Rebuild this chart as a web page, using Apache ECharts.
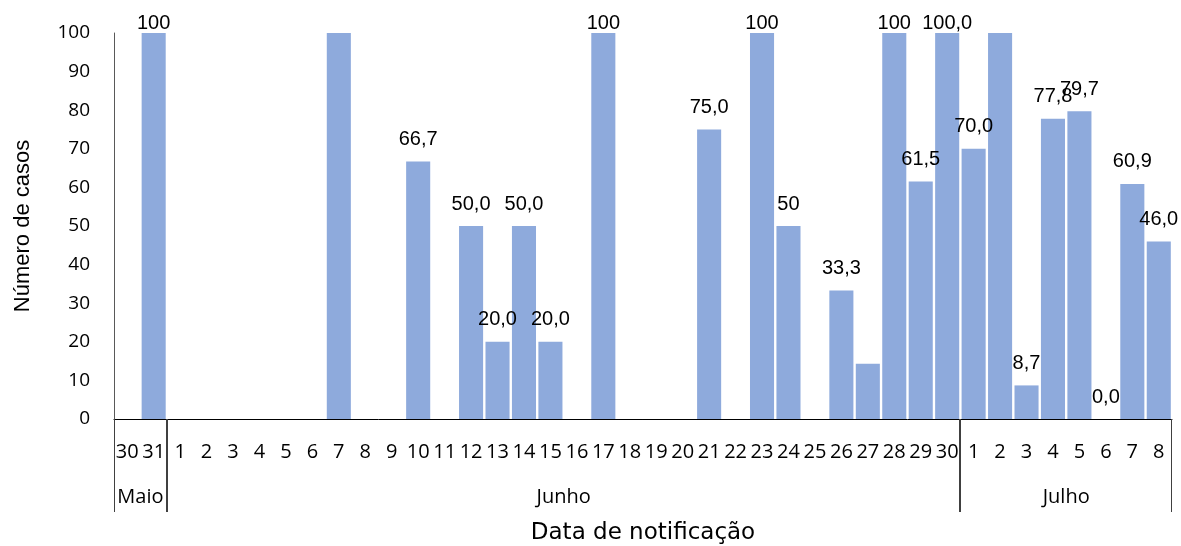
<!DOCTYPE html>
<html>
<head>
<meta charset="utf-8">
<script src="https://cdn.jsdelivr.net/npm/echarts@6/dist/echarts.min.js"></script>
<style>
  html, body { margin: 0; padding: 0; background: #fff; }
  #chart { width: 1181px; height: 546px; }
</style>
</head>
<body>
<div id="chart"></div>
<script>
// Days of notification, grouped by month below the axis
const days = ['30', '31',
  '1','2','3','4','5','6','7','8','9','10','11','12','13','14','15',
  '16','17','18','19','20','21','22','23','24','25','26','27','28','29','30',
  '1','2','3','4','5','6','7','8'];
const monthNames = ['Maio', 'Junho', 'Julho'];
const monthLengths = [2, 30, 8];

// Bar heights per day (null = no bar)
const values = [null, 100,
  null, null, null, null, null, null, 100, null, null, 66.7, null, 50, 20, 50, 20,
  null, 100, null, null, null, 75, null, 100, 50, null, 33.3, 14.3, 100, 61.5, 100,
  70, 100, 8.7, 77.8, 79.7, 0, 60.9, 46];

// Text shown above each bar ('' = no label)
const valueLabels = ['', '100',
  '', '', '', '', '', '', '', '', '', '66,7', '', '50,0', '20,0', '50,0', '20,0',
  '', '100', '', '', '', '75,0', '', '100', '50', '', '33,3', '', '100', '61,5', '100,0',
  '70,0', '', '8,7', '77,8', '79,7', '0,0', '60,9', '46,0'];

const yTicks = { min: 0, max: 100, interval: 10 };

// Month spans in category units: [start, end, name]
const monthSpans = [];
let acc = 0;
monthNames.forEach((name, i) => {
  monthSpans.push([acc, acc + monthLengths[i], name]);
  acc += monthLengths[i];
});

const chart = echarts.init(document.getElementById('chart'));

chart.setOption({
  animation: false,
  backgroundColor: '#fff',
  grid: { left: 114, right: 9, top: 33, bottom: 127, containLabel: false, outerBoundsMode: 'none' },
  xAxis: [{
    type: 'category',
    data: days,
    boundaryGap: true,
    axisLine: { lineStyle: { color: '#000', width: 1 } },
    axisTick: { show: false },
    axisLabel: {
      interval: 0, margin: 23, color: '#000',
      fontFamily: 'Open Sans', fontSize: 20
    },
    name: 'Data de notificação',
    nameLocation: 'middle',
    nameGap: 103,
    nameTextStyle: { fontFamily: 'DejaVu Sans', fontSize: 23, color: '#000' }
  }, {
    type: 'value',
    min: 0, max: days.length,
    show: false
  }],
  yAxis: {
    type: 'value',
    min: yTicks.min, max: yTicks.max, interval: yTicks.interval,
    splitLine: { show: false },
    axisLine: { show: true, lineStyle: { color: '#595959', width: 1 } },
    axisTick: { show: false },
    axisLabel: {
      margin: 24, color: '#000',
      fontFamily: 'Open Sans', fontSize: 19
    },
    name: 'Número de casos',
    nameLocation: 'middle',
    nameGap: 80,
    nameTextStyle: { fontFamily: 'Liberation Sans', fontSize: 22, color: '#000' }
  },
  series: [{
    type: 'bar',
    data: values.map(v => ({
      value: v,
      label: { distance: v >= 95 ? 0 : 12 }
    })),
    barCategoryGap: '9%',
    itemStyle: { color: '#8eaadc' },
    label: {
      show: true,
      position: 'top',
      color: '#000',
      fontFamily: 'Liberation Sans',
      fontSize: 20,
      formatter: p => valueLabels[p.dataIndex]
    }
  }, {
    // Month bands under the day labels, with separator lines
    type: 'custom',
    xAxisIndex: 1,
    yAxisIndex: 0,
    silent: true,
    clip: false,
    data: monthSpans,
    renderItem: (params, api) => {
      const a = api.coord([api.value(0), 0]);
      const b = api.coord([api.value(1), 0]);
      const name = monthSpans[params.dataIndex][2];
      const lineStyle = { stroke: '#404040', lineWidth: 1 };
      return {
        type: 'group',
        children: [
          { type: 'line', shape: { x1: Math.round(a[0]) + 0.5, y1: a[1], x2: Math.round(a[0]) + 0.5, y2: a[1] + 93 }, style: lineStyle },
          { type: 'line', shape: { x1: Math.round(b[0]) - 0.5, y1: b[1], x2: Math.round(b[0]) - 0.5, y2: b[1] + 93 }, style: lineStyle },
          { type: 'text', x: (a[0] + b[0]) / 2, y: a[1] + 78,
            style: { text: name, fill: '#000', font: '20px "Open Sans"', align: 'center', verticalAlign: 'middle' } }
        ]
      };
    }
  }]
});
</script>
</body>
</html>
